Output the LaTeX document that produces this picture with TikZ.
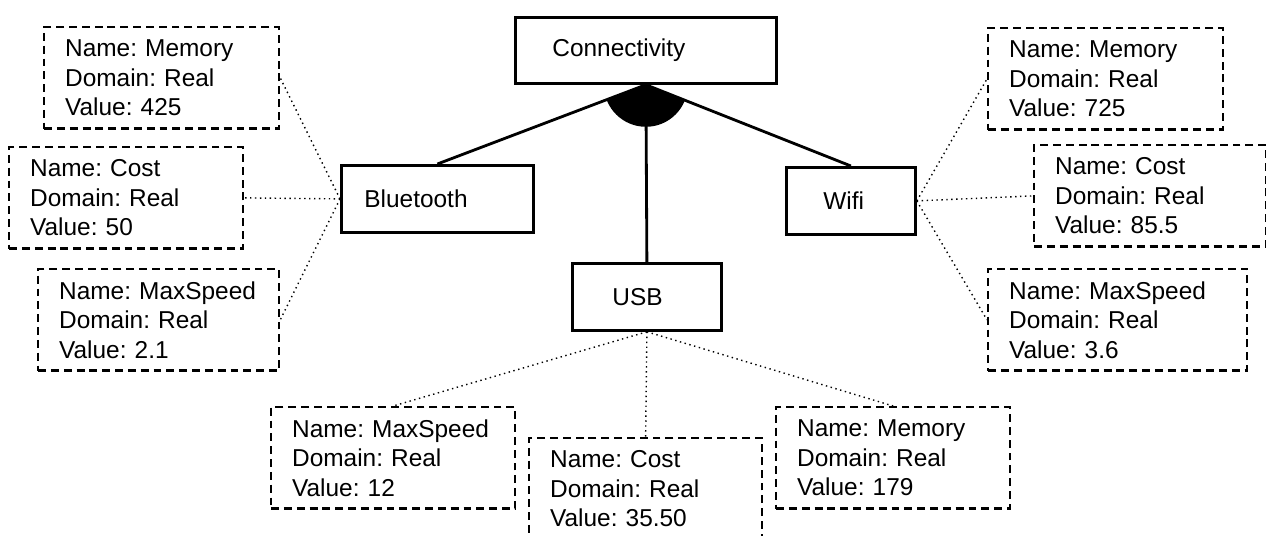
\documentclass[tikz,border=0pt]{standalone}
\usepackage{fontspec}
\setmainfont{Liberation Sans}
\frenchspacing

\begin{document}
\begin{tikzpicture}[
            x=0.02cm, y=-0.02cm,
            feature/.style={draw, line width=1.6pt, anchor=north west, align=left,
                minimum height=1.34cm, font=\fontsize{13.9}{16.8}\selectfont},
            attr/.style={draw, line width=1.3pt, dash pattern=on 4.5pt off 2.8pt,
                anchor=north west, align=left, minimum height=2.03cm,
                inner xsep=0.42cm, font=\fontsize{13.9}{16.8}\selectfont},
            link/.style={line width=1.6pt},
            tie/.style={line width=0.8pt, dotted},
            ]
            \useasboundingbox (0,0) rectangle (1266,536);

            % features
            \node (conn) [feature, inner xsep=0.74cm, text width=3.74cm, minimum height=1.32cm] at (514,16) {Connectivity};
            \node (bt)   [feature, inner xsep=0.46cm, text width=2.92cm] at (340,164) {Bluetooth};
            \node (wifi) [feature, inner xsep=0.74cm, text width=1.10cm] at (785,166) {Wifi};
            \node (usb)  [feature, inner xsep=0.80cm, text width=1.38cm] at (571,262) {USB};

            % attributes of Bluetooth
            \node (btmem)  [attr, text width=3.86cm] at (43,26)  {Name: Memory\\Domain: Real\\Value: 425};
            \node (btcost) [attr, text width=3.84cm] at (8,146)  {Name: Cost\\Domain: Real\\Value: 50};
            \node (btmax)  [attr, text width=3.98cm] at (37,268) {Name: MaxSpeed\\Domain: Real\\Value: 2.1};

            % attributes of Wifi
            \node (wimem)  [attr, text width=3.86cm] at (987,27)   {Name: Memory\\Domain: Real\\Value: 725};
            \node (wicost) [attr, text width=3.80cm] at (1033,144) {Name: Cost\\Domain: Real\\Value: 85.5};
            \node (wimax)  [attr, text width=4.34cm] at (987,268)  {Name: MaxSpeed\\Domain: Real\\Value: 3.6};

            % attributes of USB
            \node (usbmax)  [attr, text width=4.04cm] at (270,406) {Name: MaxSpeed\\Domain: Real\\Value: 12};
            \node (usbcost) [attr, text width=3.82cm] at (528,437) {Name: Cost\\Domain: Real\\Value: 35.50};
            \node (usbmem)  [attr, text width=3.84cm] at (775,406) {Name: Memory\\Domain: Real\\Value: 179};

            % or-group
            \begin{scope}
                \clip (conn.south) -- (bt.north) -- (wifi.north) -- cycle;
                \fill (conn.south) circle [radius=0.84cm];
            \end{scope}
            \draw[link] (conn.south) -- (bt.north);
            \draw[link] (conn.south) -- (usb.north);
            \draw[link] (conn.south) -- (wifi.north);

            \draw[tie] (bt.west) -- (btmem.east);
            \draw[tie] (bt.west) -- (btcost.east);
            \draw[tie] (bt.west) -- (btmax.east);
            \draw[tie] (wifi.east) -- (wimem.west);
            \draw[tie] (wifi.east) -- (wicost.west);
            \draw[tie] (wifi.east) -- (wimax.west);
            \draw[tie] (usb.south) -- (usbmax.north);
            \draw[tie] (usb.south) -- (usbcost.north);
            \draw[tie] (usb.south) -- (usbmem.north);
        \end{tikzpicture}
\end{document}
